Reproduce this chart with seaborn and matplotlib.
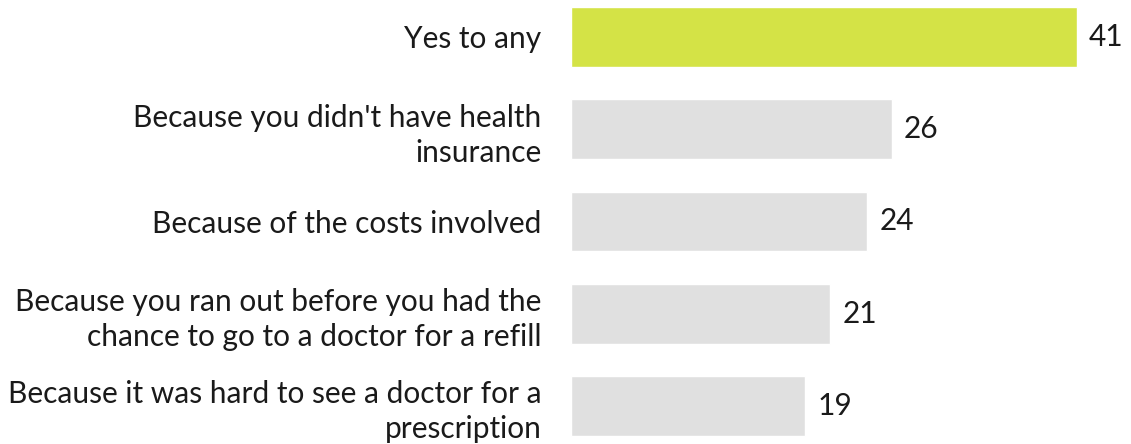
import matplotlib
matplotlib.use("Agg")
import matplotlib.pyplot as plt
import seaborn as sns
import pandas as pd

# Datos del grafico
categorias = [
    "Yes to any",
    "Because you didn't have health\ninsurance",
    "Because of the costs involved",
    "Because you ran out before you had the\nchance to go to a doctor for a refill",
    "Because it was hard to see a doctor for a\nprescription",
]
valores = [41, 26, 24, 21, 19]
colores = ["#d4e346", "#e0e0e0", "#e0e0e0", "#e0e0e0", "#e0e0e0"]

df = pd.DataFrame({"categoria": categorias, "valor": valores})

sns.set_style("white")
plt.rcParams["font.family"] = ["Lato", "DejaVu Sans"]

fig = plt.figure(figsize=(11.31, 4.44), dpi=100)
ax = fig.add_axes([0.505, 0.0, 0.495, 1.0])

sns.barplot(data=df, x="valor", y="categoria", hue="categoria", palette=colores,
            saturation=1, legend=False, width=0.65, ax=ax, orient="h")

# Etiquetas de valores
for i, v in enumerate(valores):
    ax.text(v + 1.0, i, str(v), va="center", ha="left", fontsize=21.5,
            color="#1a1a1a")

ax.set_xlim(0, 45.4)
ax.set_ylim(4.412, -0.401)
ax.set_xlabel("")
ax.set_ylabel("")
ax.set_xticks([])
ax.tick_params(axis="y", length=0, pad=21.5, labelsize=21.5, labelcolor="#1a1a1a")
for lbl in ax.get_yticklabels():
    lbl.set_horizontalalignment("right")
    lbl.set_multialignment("right")
    lbl.set_linespacing(1.3)
sns.despine(ax=ax, left=True, bottom=True)

fig.savefig("out.png", dpi=100)
